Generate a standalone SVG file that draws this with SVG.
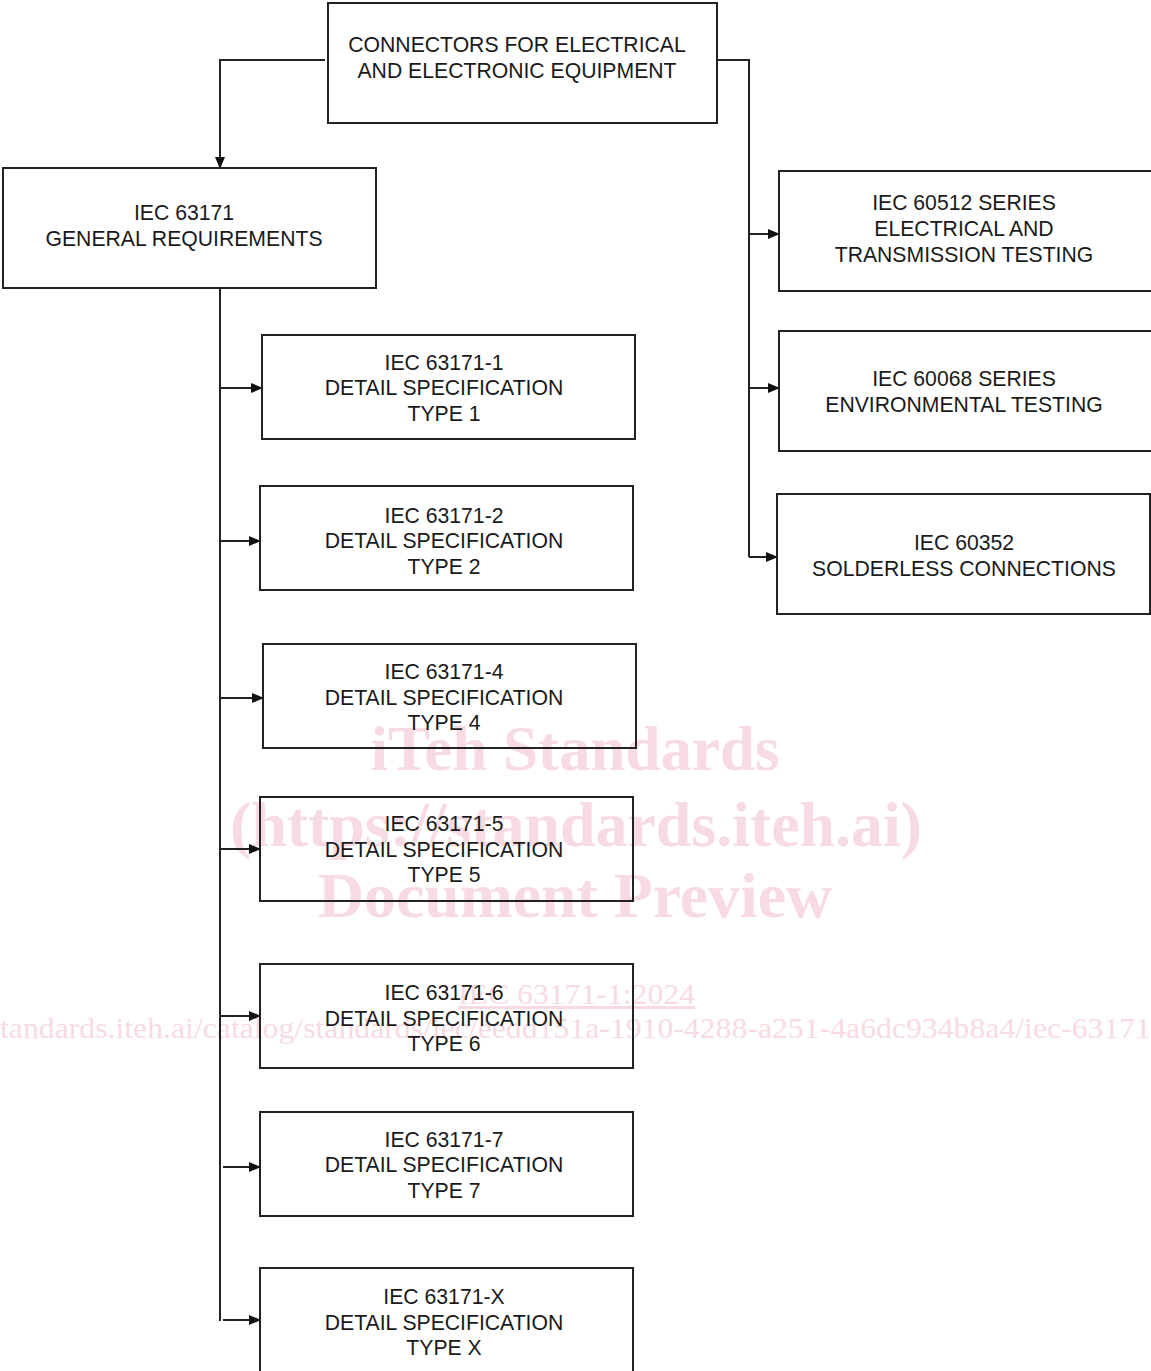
<svg xmlns="http://www.w3.org/2000/svg" width="1151" height="1371" viewBox="0 0 1151 1371">
<style>
.box{fill:none;stroke:#222;stroke-width:2}
.t{font-family:"Liberation Sans",Arial,sans-serif;font-size:21.2px;fill:#1a1a1a;text-anchor:middle}
.wm{font-family:"Liberation Serif","Times New Roman",serif;fill:#f8dbe2}
.wb{font-weight:bold;font-size:63px;text-anchor:middle}
.c{fill:none;stroke:#222;stroke-width:2}
</style>
<defs>
<marker id="ah" markerUnits="userSpaceOnUse" markerWidth="12" markerHeight="12" viewBox="0 0 12 12" refX="11" refY="6" orient="auto">
<path d="M0,1 L12,6 L0,11 Z" fill="#111"/>
</marker>
</defs>
<rect width="1151" height="1371" fill="#fff"/>
<g id="watermark">
<text class="wm wb" x="575" y="770">iTeh Standards</text>
<text class="wm wb" x="576" y="846" textLength="692" lengthAdjust="spacingAndGlyphs">(https://standards.iteh.ai)</text>
<text class="wm wb" x="575" y="917" textLength="514" lengthAdjust="spacingAndGlyphs">Document Preview</text>
<text class="wm" x="458" y="1004" font-size="30" textLength="237" lengthAdjust="spacingAndGlyphs" text-decoration="underline">IEC 63171-1:2024</text>
<text class="wm" x="0" y="1038" font-size="29" textLength="1151" lengthAdjust="spacingAndGlyphs">tandards.iteh.ai/catalog/standards/iec/eedd151a-1910-4288-a251-4a6dc934b8a4/iec-63171</text>
</g>
<g id="connectors">
<polyline class="c" points="325,60 220,60 220,168" marker-end="url(#ah)"/>
<polyline class="c" points="717,60 749,60 749,557"/>
<line class="c" x1="749" y1="234" x2="779" y2="234" marker-end="url(#ah)"/>
<line class="c" x1="749" y1="388" x2="779" y2="388" marker-end="url(#ah)"/>
<line class="c" x1="749" y1="557" x2="777" y2="557" marker-end="url(#ah)"/>
<line class="c" x1="220" y1="288" x2="220" y2="1321"/>
<line class="c" x1="220" y1="388" x2="262" y2="388" marker-end="url(#ah)"/>
<line class="c" x1="220" y1="541" x2="260" y2="541" marker-end="url(#ah)"/>
<line class="c" x1="220" y1="698" x2="263" y2="698" marker-end="url(#ah)"/>
<line class="c" x1="220" y1="849" x2="260" y2="849" marker-end="url(#ah)"/>
<line class="c" x1="220" y1="1016" x2="260" y2="1016" marker-end="url(#ah)"/>
<line class="c" x1="223" y1="1167" x2="260" y2="1167" marker-end="url(#ah)"/>
<line class="c" x1="223" y1="1320" x2="260" y2="1320" marker-end="url(#ah)"/>
</g>
<g id="n-root">
<rect class="box" x="328" y="3" width="389" height="120"/>
<text class="t" x="517" y="52">CONNECTORS FOR ELECTRICAL</text>
<text class="t" x="517" y="78">AND ELECTRONIC EQUIPMENT</text>
</g>
<g id="n-general">
<rect class="box" x="3" y="168" width="373" height="120"/>
<text class="t" x="184" y="220">IEC 63171</text>
<text class="t" x="184" y="246">GENERAL REQUIREMENTS</text>
</g>
<g id="n-60512">
<rect class="box" x="779" y="171" width="380" height="120"/>
<text class="t" x="964" y="210">IEC 60512 SERIES</text>
<text class="t" x="964" y="236">ELECTRICAL AND</text>
<text class="t" x="964" y="262">TRANSMISSION TESTING</text>
</g>
<g id="n-60068">
<rect class="box" x="779" y="331" width="380" height="120"/>
<text class="t" x="964" y="386">IEC 60068 SERIES</text>
<text class="t" x="964" y="412">ENVIRONMENTAL TESTING</text>
</g>
<g id="n-60352">
<rect class="box" x="777" y="494" width="373" height="120"/>
<text class="t" x="964" y="550">IEC 60352</text>
<text class="t" x="964" y="576">SOLDERLESS CONNECTIONS</text>
</g>
<g id="n-t1">
<rect class="box" x="262" y="335" width="373" height="104"/>
<text class="t" x="444" y="370">IEC 63171-1</text>
<text class="t" x="444" y="395">DETAIL SPECIFICATION</text>
<text class="t" x="444" y="421">TYPE 1</text>
</g>
<g id="n-t2">
<rect class="box" x="260" y="486" width="373" height="104"/>
<text class="t" x="444" y="523">IEC 63171-2</text>
<text class="t" x="444" y="548">DETAIL SPECIFICATION</text>
<text class="t" x="444" y="574">TYPE 2</text>
</g>
<g id="n-t4">
<rect class="box" x="263" y="644" width="373" height="104"/>
<text class="t" x="444" y="679">IEC 63171-4</text>
<text class="t" x="444" y="705">DETAIL SPECIFICATION</text>
<text class="t" x="444" y="730">TYPE 4</text>
</g>
<g id="n-t5">
<rect class="box" x="260" y="797" width="373" height="104"/>
<text class="t" x="444" y="831">IEC 63171-5</text>
<text class="t" x="444" y="857">DETAIL SPECIFICATION</text>
<text class="t" x="444" y="882">TYPE 5</text>
</g>
<g id="n-t6">
<rect class="box" x="260" y="964" width="373" height="104"/>
<text class="t" x="444" y="1000">IEC 63171-6</text>
<text class="t" x="444" y="1026">DETAIL SPECIFICATION</text>
<text class="t" x="444" y="1051">TYPE 6</text>
</g>
<g id="n-t7">
<rect class="box" x="260" y="1112" width="373" height="104"/>
<text class="t" x="444" y="1147">IEC 63171-7</text>
<text class="t" x="444" y="1172">DETAIL SPECIFICATION</text>
<text class="t" x="444" y="1198">TYPE 7</text>
</g>
<g id="n-tx">
<rect class="box" x="260" y="1268" width="373" height="110"/>
<text class="t" x="444" y="1304">IEC 63171-X</text>
<text class="t" x="444" y="1330">DETAIL SPECIFICATION</text>
<text class="t" x="444" y="1355">TYPE X</text>
</g>
</svg>
